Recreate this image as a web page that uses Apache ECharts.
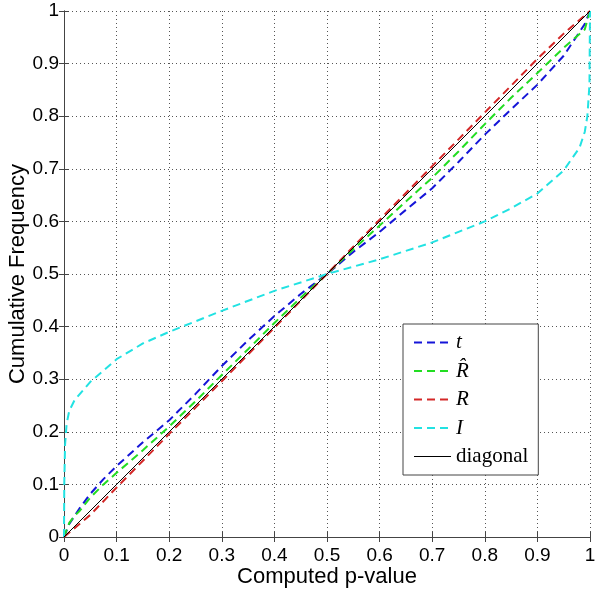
<!DOCTYPE html>
<html>
<head>
<meta charset="utf-8">
<script src="https://cdn.jsdelivr.net/npm/echarts@6/dist/echarts.min.js"></script>
<style>html,body{margin:0;padding:0;background:#fff;}#c{width:600px;height:590px;}</style>
</head>
<body>
<div id="c"></div>
<script>
// ---- data ----
const xTicks = [0, 0.1, 0.2, 0.3, 0.4, 0.5, 0.6, 0.7, 0.8, 0.9, 1];
const yTicks = [0, 0.1, 0.2, 0.3, 0.4, 0.5, 0.6, 0.7, 0.8, 0.9, 1];
const seriesNames = ['t', 'R\u0302', 'R', 'I', 'diagonal'];

const tP    = [0, 0.01, 0.02, 0.03, 0.05, 0.075, 0.1, 0.15, 0.2, 0.25, 0.3, 0.35, 0.4, 0.45, 0.5, 0.55, 0.6, 0.65, 0.7, 0.75, 0.8, 0.85, 0.9, 0.95, 0.99, 1];
const tF    = [0, 0.025, 0.04, 0.055, 0.082, 0.11, 0.135, 0.18, 0.222, 0.272, 0.325, 0.374, 0.42, 0.462, 0.5, 0.542, 0.58, 0.622, 0.663, 0.713, 0.765, 0.813, 0.86, 0.915, 0.975, 1];

const rhatP = [0, 0.01, 0.02, 0.03, 0.05, 0.075, 0.1, 0.15, 0.2, 0.25, 0.3, 0.35, 0.4, 0.45, 0.5, 0.55, 0.6, 0.65, 0.7, 0.75, 0.8, 0.85, 0.9, 0.95, 0.99, 1];
const rhatF = [0, 0.027, 0.04, 0.05, 0.075, 0.1, 0.122, 0.165, 0.21, 0.258, 0.308, 0.357, 0.407, 0.455, 0.5, 0.547, 0.592, 0.638, 0.683, 0.733, 0.785, 0.835, 0.882, 0.93, 0.965, 1];

const rP    = [0, 0.05, 0.1, 0.15, 0.2, 0.25, 0.3, 0.35, 0.4, 0.45, 0.5, 0.55, 0.6, 0.65, 0.7, 0.75, 0.8, 0.85, 0.9, 0.95, 1];
const rF    = [0, 0.042, 0.094, 0.145, 0.196, 0.246, 0.296, 0.347, 0.398, 0.449, 0.5, 0.552, 0.603, 0.654, 0.705, 0.756, 0.807, 0.858, 0.909, 0.957, 1];

const iP    = [0, 0.0005, 0.002, 0.005, 0.01, 0.02, 0.05, 0.1, 0.15, 0.2, 0.25, 0.3, 0.4, 0.5, 0.6, 0.7, 0.8, 0.85, 0.9, 0.95, 0.98, 0.99, 0.995, 0.999, 1];
const iF    = [0, 0.1, 0.175, 0.215, 0.24, 0.26, 0.295, 0.338, 0.368, 0.39, 0.41, 0.43, 0.468, 0.5, 0.528, 0.56, 0.6, 0.625, 0.653, 0.697, 0.74, 0.77, 0.8, 0.86, 1];

const diagP = [0, 1];
const diagF = [0, 1];

// ---- chart ----
const zip = (a, b) => a.map((v, i) => [v, b[i]]);
const chart = echarts.init(document.getElementById('c'), null, {renderer: 'canvas'});

const dash = [8, 5];
function dashed(name, color, xs, ys) {
  return {
    name: name, type: 'line', data: zip(xs, ys), symbol: 'none', showSymbol: false,
    smooth: false,
    lineStyle: {color: color, width: 2, type: dash},
    itemStyle: {color: color},
    emphasis: {disabled: true}
  };
}

const axisFont = {fontFamily: 'Liberation Sans, Arial, sans-serif', fontSize: 19, color: '#000'};
const frameLine = {show: true, lineStyle: {color: '#444', width: 1}};

const option = {
  animation: false,
  backgroundColor: '#fff',
  grid: {left: 64, top: 11, width: 526, height: 526, containLabel: false, outerBoundsMode: 'none'},
  legend: {
    orient: 'vertical', left: 403, top: 324,
    padding: [8, 10, 8, 10], itemGap: 7.5, itemWidth: 37, itemHeight: 14,
    borderColor: '#444', borderWidth: 1, backgroundColor: '#fff',
    itemStyle: {color: 'rgba(0,0,0,0)', borderWidth: 0, opacity: 0},
    data: seriesNames.slice(0, 4).concat([{name: seriesNames[4], lineStyle: {width: 1}}]),
    formatter: function (n) { return n === 'diagonal' ? '{n|' + n + '}' : '{i|' + n + '}'; },
    textStyle: {
      lineHeight: 20,
      rich: {
        i: {fontFamily: 'Liberation Serif, serif', fontStyle: 'italic', fontSize: 21, lineHeight: 20, color: '#000'},
        n: {fontFamily: 'Liberation Serif, serif', fontSize: 21, lineHeight: 20, color: '#000'}
      }
    }
  },
  xAxis: [{
    type: 'value', min: 0, max: 1, interval: 0.1, position: 'bottom',
    axisLine: frameLine,
    axisTick: {show: true, inside: true, length: 5, lineStyle: {color: '#444'}},
    axisLabel: Object.assign({margin: 9, customValues: xTicks}, axisFont),
    splitLine: {show: true, lineStyle: {color: '#555', width: 1, type: [1, 3]}},
    name: 'Computed p-value', nameLocation: 'middle', nameGap: 29, nameMoveOverlap: false,
    nameTextStyle: {fontFamily: 'Liberation Sans, Arial, sans-serif', fontSize: 22, color: '#000'}
  }, {
    type: 'value', min: 0, max: 1, interval: 0.1, position: 'top',
    axisLine: frameLine,
    axisTick: {show: true, inside: true, length: 5, lineStyle: {color: '#444'}},
    axisLabel: {show: false}, splitLine: {show: false}
  }],
  yAxis: [{
    type: 'value', min: 0, max: 1, interval: 0.1, position: 'left',
    axisLine: frameLine,
    axisTick: {show: true, inside: true, length: 5, lineStyle: {color: '#444'}},
    axisLabel: Object.assign({margin: 5, customValues: yTicks}, axisFont),
    splitLine: {show: true, lineStyle: {color: '#555', width: 1, type: [1, 3]}},
    name: 'Cumulative Frequency', nameLocation: 'middle', nameGap: 35, nameMoveOverlap: false,
    nameTextStyle: {fontFamily: 'Liberation Sans, Arial, sans-serif', fontSize: 22, color: '#000'}
  }, {
    type: 'value', min: 0, max: 1, interval: 0.1, position: 'right',
    axisLine: frameLine,
    axisTick: {show: true, inside: true, length: 5, lineStyle: {color: '#444'}},
    axisLabel: {show: false}, splitLine: {show: false}
  }],
  series: [
    dashed(seriesNames[0], '#1515d8', tP, tF),
    dashed(seriesNames[1], '#22dd22', rhatP, rhatF),
    dashed(seriesNames[2], '#d42828', rP, rF),
    dashed(seriesNames[3], '#22e2e2', iP, iF),
    {
      name: seriesNames[4], type: 'line', data: zip(diagP, diagF), symbol: 'none', showSymbol: false,
      lineStyle: {color: '#000', width: 1, type: 'solid'}, itemStyle: {color: '#000'},
      emphasis: {disabled: true}, z: 3
    }
  ]
};
chart.setOption(option);
</script>
</body>
</html>
